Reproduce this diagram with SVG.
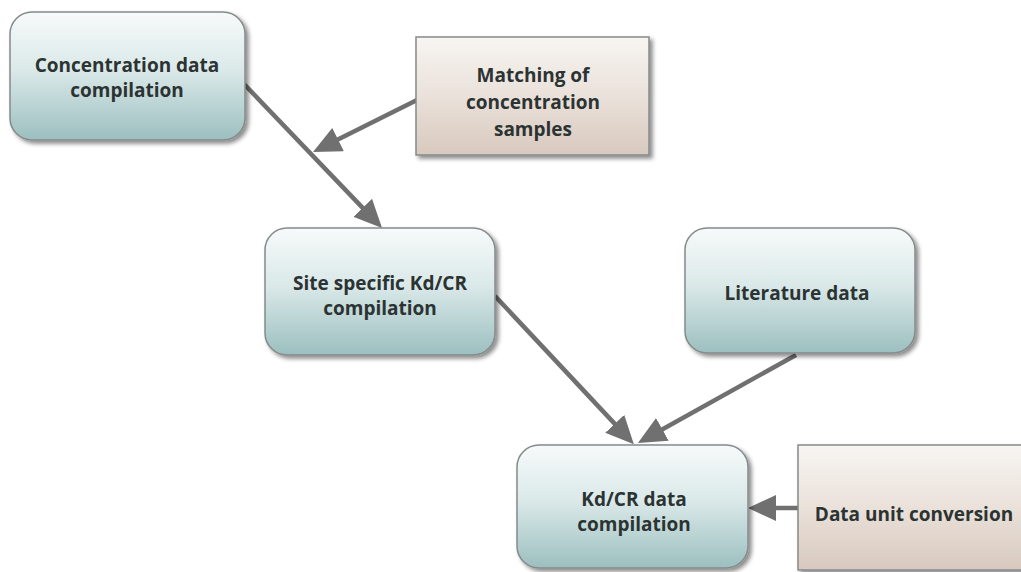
<svg xmlns="http://www.w3.org/2000/svg" width="1021" height="572" viewBox="0 0 1021 572">
  <style>
    .box { stroke: #858a8a; stroke-width: 1.5; filter: url(#shadow); }
    .teal { fill: url(#tealGrad); }
    .sand { fill: url(#sandGrad); }
    .label { font-family: "Open Sans", "Noto Sans", "DejaVu Sans", sans-serif; font-weight: bold; font-size: 19px; fill: #2b3333; text-anchor: middle; }
    .link { fill: none; stroke: #707070; stroke-width: 4.5; marker-end: url(#head); }
  </style>
  <defs>
    <linearGradient id="tealGrad" x1="0" y1="0" x2="0" y2="1">
      <stop offset="0" stop-color="#f7fafa"/>
      <stop offset="0.45" stop-color="#dbe9e9"/>
      <stop offset="1" stop-color="#9cbfbf"/>
    </linearGradient>
    <linearGradient id="sandGrad" x1="0" y1="0" x2="0" y2="1">
      <stop offset="0" stop-color="#f8f5f2"/>
      <stop offset="0.5" stop-color="#eae1da"/>
      <stop offset="1" stop-color="#d8c9be"/>
    </linearGradient>
    <filter id="shadow" x="-10%" y="-10%" width="125%" height="130%">
      <feDropShadow dx="3" dy="3" stdDeviation="2" flood-color="#000" flood-opacity="0.45"/>
    </filter>
    <marker id="head" markerUnits="userSpaceOnUse" markerWidth="30" markerHeight="28" refX="8" refY="13" orient="auto">
      <path d="M0,0 L28,13 L0,26 z" fill="#707070"/>
    </marker>
  </defs>

  <!-- connectors -->
  <g id="connectors">
    <path class="link" d="M244,84 L368.2,213.6"/>
    <path class="link" d="M417,100 L330.9,143.1"/>
    <path class="link" d="M495,296 L620.2,429.6"/>
    <path class="link" d="M796,355 L655.4,433.2"/>
    <path class="link" d="M798,508 L768,508"/>
  </g>

  <g id="concentration-data">
    <rect class="box teal" x="10" y="12" width="235" height="128" rx="22"/>
    <text class="label" x="127" y="72">Concentration data</text>
    <text class="label" x="127" y="97">compilation</text>
  </g>

  <g id="matching-samples">
    <rect class="box sand" x="416" y="37" width="233" height="118"/>
    <text class="label" x="533" y="82">Matching of</text>
    <text class="label" x="533" y="109">concentration</text>
    <text class="label" x="533" y="136">samples</text>
  </g>

  <g id="site-specific">
    <rect class="box teal" x="265" y="228" width="230" height="127" rx="22"/>
    <text class="label" x="380" y="290">Site specific Kd/CR</text>
    <text class="label" x="380" y="315">compilation</text>
  </g>

  <g id="literature-data">
    <rect class="box teal" x="685" y="228" width="230" height="125" rx="22"/>
    <text class="label" x="797" y="300">Literature data</text>
  </g>

  <g id="kdcr-compilation">
    <rect class="box teal" x="517" y="445" width="231" height="123" rx="22"/>
    <text class="label" x="634" y="506">Kd/CR data</text>
    <text class="label" x="634" y="531">compilation</text>
  </g>

  <g id="unit-conversion">
    <rect class="box sand" x="798" y="445" width="234" height="125"/>
    <text class="label" x="914" y="521">Data unit conversion</text>
  </g>
</svg>
